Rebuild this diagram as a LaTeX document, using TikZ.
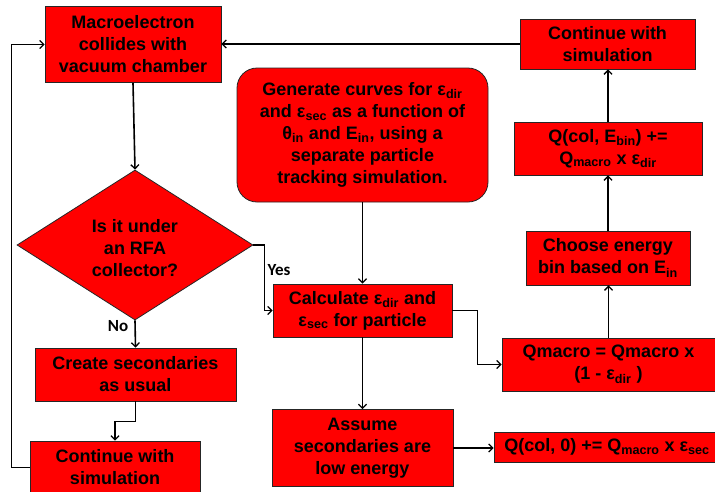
\documentclass[tikz,border=0pt]{standalone}
\usepackage{fontspec}
\setmainfont{Liberation Sans}
\newfontfamily\labfont{Carlito}
\usetikzlibrary{arrows.meta,shapes.geometric}
\tikzset{
  box/.style={draw=black!85, line width=0.8pt, fill=red, inner sep=0pt, align=center,
    font=\bfseries\fontsize{18}{22}\selectfont},
  arr/.style={line width=1.6pt, -{Straight Barb[length=4pt,width=8pt,line width=1.3pt]}},
  lab/.style={font=\labfont\bfseries\fontsize{17}{20}\selectfont, inner sep=0pt}
}
\newcommand{\sbs}[1]{\textsubscript{#1}}
\begin{document}
\begin{tikzpicture}[x=1pt,y=-1pt]
\useasboundingbox (0,0) rectangle (715,491);
\clip (0,0) rectangle (715,491);
\node[box, minimum width=176pt, minimum height=76pt] (mac) at (133,44.5) {Macroelectron\\collides with\\vacuum chamber};
\node[box, minimum width=175pt, minimum height=50pt] (contR) at (607.5,44) {Continue with\\simulation};
\node[box, rounded corners=20pt, minimum width=251pt, minimum height=134pt] (gen) at (362.5,135) {Generate curves for ε\sbs{dir}\\and ε\sbs{sec} as a function of\\θ\sbs{in} and E\sbs{in}, using a\\separate particle\\tracking simulation.};
\node[box, minimum width=188pt, minimum height=53pt] (qbin) at (608,148.5) {Q(col, E\sbs{bin}) +=\\Q\sbs{macro} x ε\sbs{dir}};
\node[box, minimum width=164pt, minimum height=54pt] (choose) at (608,258) {Choose energy\\bin based on E\sbs{in}};
\node[box, minimum width=213pt, minimum height=53pt] (qmac) at (608.5,364.5) {Qmacro = Qmacro x\\(1 - ε\sbs{dir} )};
\node[box, minimum width=226pt, minimum height=30pt] (qcol) at (607,447) {Q(col, 0) += Q\sbs{macro} x ε\sbs{sec}};
\node[box, minimum width=179pt, minimum height=53pt] (calc) at (362.5,310.5) {Calculate ε\sbs{dir} and\\ε\sbs{sec} for particle};
\node[box, minimum width=181pt, minimum height=77pt] (assume) at (362.5,448) {Assume\\secondaries are\\low energy};
\node[box, diamond, minimum width=236pt, minimum height=150pt] (dia) at (135,245) {};
\node[font=\bfseries\fontsize{18}{22}\selectfont, align=center, inner sep=0pt] (diatext) at (135,248) {Is it under\\an RFA\\collector?};
\node[box, minimum width=201pt, minimum height=53pt] (create) at (135.5,374.5) {Create secondaries\\as usual};
\node[box, minimum width=170pt, minimum height=53pt] (contL) at (115,467.5) {Continue with\\simulation};

\draw[arr] (mac.south) -- (dia.north);
\draw[arr] (dia.east) -- ++(11,0) |- (calc.west);
\draw[arr] (dia.south) -- (create.north);
\draw[arr] (create.south) -- ++(0,20) -| (contL.north);
\draw[arr] (contL.west) -- ++(-18,0) |- (mac.west);
\draw[arr] (contR.west) -- (contR.west -| mac.east);
\draw[arr] (gen.south) -- (calc.north);
\draw[arr] (calc.south) -- (assume.north);
\draw[arr] (calc.east) -- ++(25,0) |- (qmac.west);
\draw[arr] (qmac.north) -- (qmac.north |- choose.south);
\draw[arr] (choose.north) -- (choose.north |- qbin.south);
\draw[arr] (qbin.north) -- (qbin.north |- contR.south);
\draw[arr] (assume.east) -- (assume.east -| qcol.west);

\node[lab] (yes) at (279,270) {Yes};
\node[lab] (no) at (118,326) {No};
\end{tikzpicture}
\end{document}
